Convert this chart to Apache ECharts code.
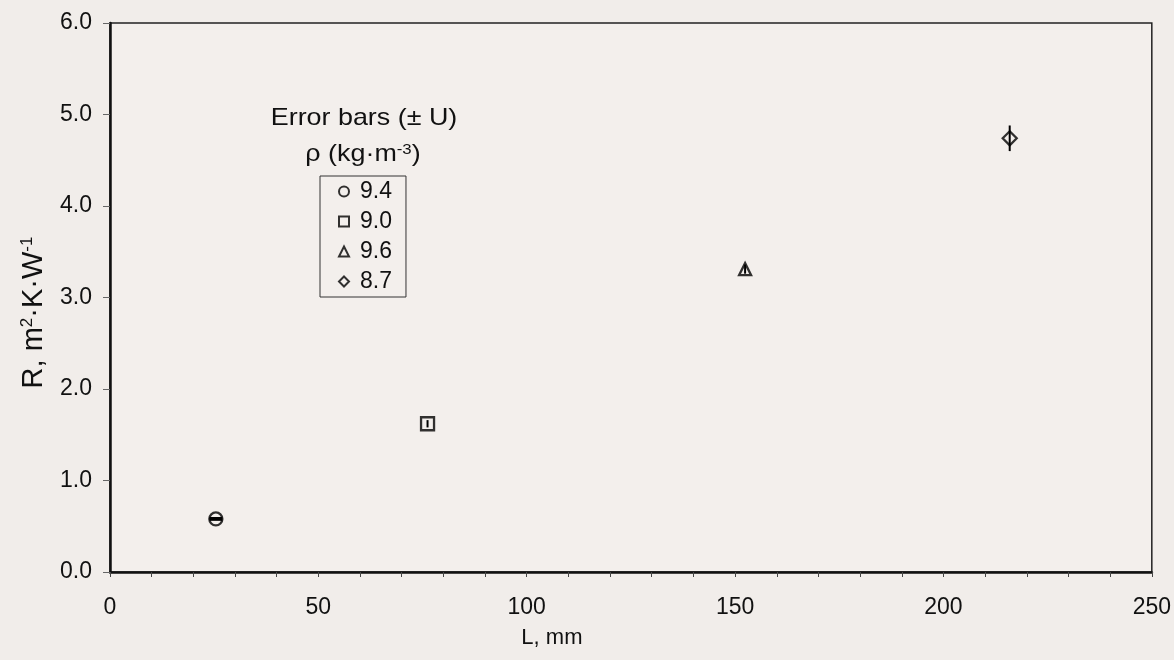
<!DOCTYPE html>
<html>
<head>
<meta charset="utf-8">
<script src="https://cdn.jsdelivr.net/npm/echarts@6/dist/echarts.min.js"></script>
<style>
  html, body { margin: 0; padding: 0; background: #f1edea; }
  #chart { width: 1174px; height: 660px; }
</style>
</head>
<body>
<div id="chart"></div>
<script>
// Thermal resistance vs. specimen thickness, one density per thickness
const seriesNames = ['9.4', '9.0', '9.6', '8.7'];      // density, kg·m^-3
const thickness   = [25.4, 76.2, 152.4, 215.9];         // L, mm
const resistance  = [0.58, 1.62, 3.31, 4.74];           // R, m²·K·W^-1
const uncertainty = [0.01, 0.04, 0.05, 0.14];           // ± U
const symbols     = ['circle', 'rect', 'triangle', 'diamond'];
const xTicks = [0, 50, 100, 150, 200, 250];
const yTicks = [0, 1, 2, 3, 4, 5, 6];

const FONT = 'Liberation Sans, Arial, Helvetica, sans-serif';
const capWidths = [13, 0, 0, 0];
const symbolSizes = [13, 13, 12, 14];

const chart = echarts.init(document.getElementById('chart'));

const scatterSeries = seriesNames.map((name, i) => ({
  name: name,
  type: 'scatter',
  symbol: symbols[i],
  symbolSize: symbolSizes[i],
  itemStyle: { color: 'rgba(0,0,0,0)', borderColor: '#000', borderWidth: 2.3 },
  emphasis: { disabled: true },
  data: [[thickness[i], resistance[i]]],
  z: 3
}));

const errorSeries = {
  type: 'custom',
  name: 'err',
  silent: true,
  z: 4,
  data: thickness.map((x, i) => [x, resistance[i], uncertainty[i], capWidths[i]]),
  renderItem: function (params, api) {
    const x = api.value(0), y = api.value(1), u = api.value(2), cap = api.value(3);
    const top = api.coord([x, y + u]);
    const bot = api.coord([x, y - u]);
    const style = { stroke: '#000', lineWidth: 2 };
    const children = [{
      type: 'line',
      shape: { x1: top[0], y1: top[1], x2: bot[0], y2: bot[1] },
      style: style
    }];
    if (cap > 0) {
      children.push({ type: 'line', shape: { x1: top[0] - cap / 2, y1: top[1], x2: top[0] + cap / 2, y2: top[1] }, style: style });
      children.push({ type: 'line', shape: { x1: bot[0] - cap / 2, y1: bot[1], x2: bot[0] + cap / 2, y2: bot[1] }, style: style });
    }
    return { type: 'group', children: children };
  }
};

chart.setOption({
  backgroundColor: '#f1edea',
  animation: false,
  textStyle: { fontFamily: FONT },
  grid: {
    left: 110, right: 22, top: 23, bottom: 88,
    show: true, borderColor: '#222', borderWidth: 1.5, backgroundColor: '#f3efec'
  },
  xAxis: {
    type: 'value',
    min: xTicks[0], max: xTicks[xTicks.length - 1], interval: 50,
    name: 'L, mm', nameLocation: 'middle', nameGap: 55,
    nameTextStyle: { fontSize: 22, color: '#111', fontFamily: FONT, padding: [0, 158, 0, 0] },
    axisLine: { show: true, onZero: false, lineStyle: { color: '#111', width: 2.5 } },
    axisTick: { show: true, inside: false, length: 5, lineStyle: { color: '#444' } },
    minorTick: { show: true, splitNumber: 5, length: 5, lineStyle: { color: '#444' } },
    splitLine: { show: false },
    axisLabel: { fontSize: 23, color: '#111', margin: 24, fontFamily: FONT }
  },
  yAxis: {
    type: 'value',
    min: yTicks[0], max: yTicks[yTicks.length - 1], interval: 1,
    name: 'R, m{sup|2}·K·W{sup|-1}', nameLocation: 'middle', nameGap: 62, nameRotate: 90,
    nameTextStyle: {
      fontSize: 29, color: '#111', fontFamily: FONT, padding: [0, 30, 0, 0],
      rich: { sup: { fontSize: 17, verticalAlign: 'top', color: '#111', fontFamily: FONT } }
    },
    axisLine: { show: true, onZero: false, lineStyle: { color: '#111', width: 2.5 } },
    axisTick: { show: true, inside: false, length: 7, lineStyle: { color: '#666' } },
    splitLine: { show: false },
    axisLabel: {
      fontSize: 23, color: '#111', margin: 18, fontFamily: FONT,
      formatter: v => v.toFixed(1)
    }
  },
  legend: {
    data: seriesNames.map((n, i) => ({ name: n, icon: symbols[i] })),
    orient: 'vertical',
    left: 320, top: 176,
    padding: [4, 14, 4, 18],
    borderColor: '#333', borderWidth: 1,
    itemWidth: 10, itemHeight: 10, itemGap: 7,
    selectedMode: false,
    itemStyle: { color: 'rgba(0,0,0,0)', borderColor: '#000', borderWidth: 2 },
    textStyle: { fontSize: 23, color: '#111', fontFamily: FONT, padding: [0, 0, 0, 6] }
  },
  graphic: [
    {
      type: 'text', x: 364, y: 118, scaleX: 1.12,
      style: {
        text: 'Error bars (± U)', fill: '#111', fontSize: 24, fontFamily: FONT,
        align: 'center', verticalAlign: 'middle'
      }
    },
    {
      type: 'text', x: 363, y: 154, scaleX: 1.12,
      style: {
        text: 'ρ (kg·m{sup|-3})', fill: '#111', fontSize: 24, fontFamily: FONT,
        align: 'center', verticalAlign: 'middle',
        rich: { sup: { fontSize: 15, verticalAlign: 'top', fill: '#111', fontFamily: FONT } }
      }
    }
  ],
  series: scatterSeries.concat([errorSeries])
});
</script>
</body>
</html>
